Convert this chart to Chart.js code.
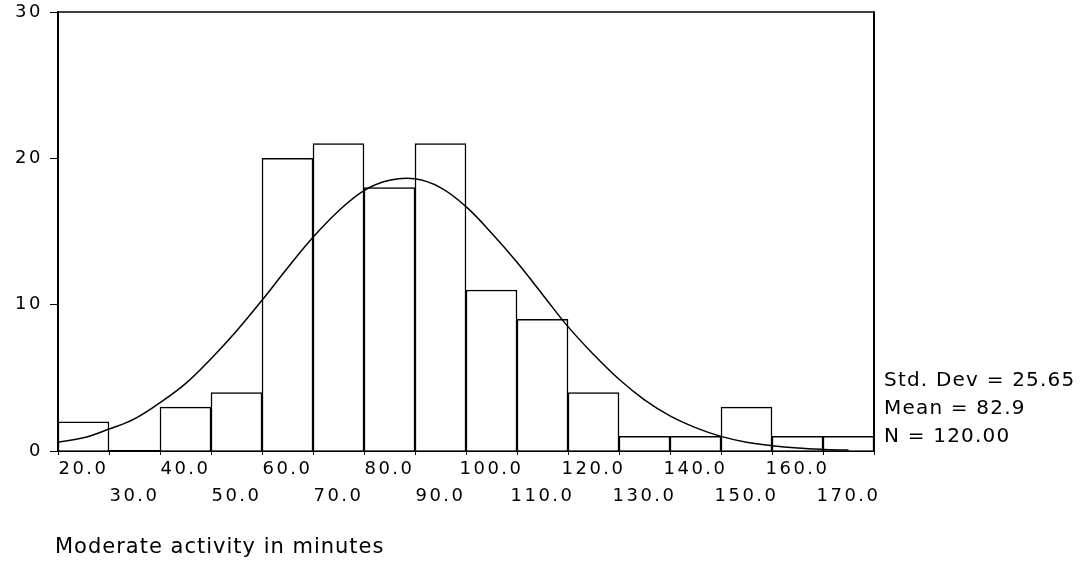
<!DOCTYPE html>
<html>
<head>
<meta charset="utf-8">
<script src="https://cdn.jsdelivr.net/npm/chart.js@4.4.0/dist/chart.umd.min.js"></script>
<style>
    html, body { margin: 0; padding: 0; background: #fff; }
    #wrap { width: 1084px; height: 562px; position: relative; }
</style>
</head>
<body>
<div id="wrap"><canvas id="myChart"></canvas></div>
<script>
// histogram bins (centre of each 10-minute bin) and counts
const binCenters = [20, 30, 40, 50, 60, 70, 80, 90, 100, 110, 120, 130, 140, 150, 160, 170];
const counts = [2, 0, 3, 4, 20, 21, 18, 21, 11, 9, 4, 1, 1, 3, 1, 1];

// normal curve
const curveX = [15, 20, 25, 30, 35, 40, 45, 50, 55, 60, 65, 70, 75, 80, 85, 90,
    95, 100, 105, 110, 115, 120, 125, 130, 135, 140, 145, 150, 155, 160, 165, 170];
const curveY = [0.6, 0.9, 1.5, 2.2, 3.3, 4.6, 6.3, 8.2, 10.3, 12.5, 14.6, 16.4, 17.8, 18.5, 18.6, 18.0,
    16.7, 14.9, 12.9, 10.7, 8.5, 6.6, 4.9, 3.5, 2.4, 1.6, 1.0, 0.6, 0.36, 0.2, 0.11, 0.06];

const xTickValues = [20, 30, 40, 50, 60, 70, 80, 90, 100, 110, 120, 130, 140, 150, 160, 170];
const xTickLabels = ["20.0", "30.0", "40.0", "50.0", "60.0", "70.0", "80.0", "90.0",
    "100.0", "110.0", "120.0", "130.0", "140.0", "150.0", "160.0", "170.0"];
const yTickValues = [0, 10, 20, 30];

const statLines = ["Std. Dev = 25.65", "Mean = 82.9", "N = 120.00"];
const xTitle = "Moderate activity in minutes";

const framePlugin = {
    id: "frame",
    beforeDraw(chart) {
        chart.ctx.letterSpacing = "2.5px";
    },
    afterDraw(chart) {
        const ctx = chart.ctx;
        const a = chart.chartArea;
        ctx.save();
        ctx.strokeStyle = "#000";
        ctx.lineWidth = 1.5;
        ctx.beginPath();
        ctx.moveTo(a.left, a.top);
        ctx.lineTo(a.right, a.top);
        ctx.stroke();
        ctx.lineWidth = 2;
        ctx.beginPath();
        ctx.moveTo(a.right, a.top - 0.75);
        ctx.lineTo(a.right, a.bottom);
        ctx.stroke();

        ctx.fillStyle = "#000";
        ctx.textBaseline = "middle";
        ctx.textAlign = "left";
        ctx.font = "20px 'DejaVu Sans'";
        ctx.letterSpacing = "1.2px";
        statLines.forEach((t, i) => {
            ctx.fillText(t, a.right + 10, a.bottom - 70 + i * 28);
        });

        ctx.font = "21px 'DejaVu Sans'";
        ctx.letterSpacing = "1px";
        ctx.fillText(xTitle, a.left - 3, 548);
        ctx.restore();
    },
};

const ctx = document.querySelector("#myChart");

const myChart = new Chart(ctx, {
    type: "bar",
    data: {
        datasets: [
            {
                type: "line",
                data: curveX.map((x, i) => ({ x: x, y: curveY[i] })),
                borderColor: "#000",
                borderWidth: 1.5,
                pointRadius: 0,
                tension: 0.4,
                fill: false,
                order: 0,
            },
            {
                type: "bar",
                data: binCenters.map((x, i) => ({ x: x, y: counts[i] })),
                backgroundColor: "#fff",
                borderColor: "#000",
                borderWidth: { top: 1.5, left: 1.5, right: 1.5, bottom: 0 },
                borderSkipped: false,
                barPercentage: 1,
                categoryPercentage: 1,
                order: 1,
            },
        ],
    },
    options: {
        responsive: true,
        maintainAspectRatio: false,
        animation: false,
        layout: {
            padding: { left: 0, right: 210, top: 12, bottom: 0 },
        },
        plugins: {
            legend: { display: false },
            tooltip: { enabled: false },
        },
        scales: {
            x: {
                type: "linear",
                min: 15,
                max: 175,
                offset: false,
                afterBuildTicks: (s) => {
                    s.ticks = xTickValues.map((v) => ({ value: v }));
                },
                afterFit: (s) => {
                    s.height = 111;
                    s.paddingLeft = 0;
                    s.paddingRight = 0;
                },
                grid: {
                    drawOnChartArea: false,
                    drawTicks: true,
                    tickLength: 4,
                    color: "#000",
                },
                border: { color: "#000", width: 2 },
                ticks: {
                    autoSkip: false,
                    maxRotation: 0,
                    color: "#000",
                    padding: 1,
                    font: { family: "DejaVu Sans", size: 18, lineHeight: 1.48 },
                    callback: (v, i) => (i % 2 === 0 ? xTickLabels[i] : ["", xTickLabels[i]]),
                },
            },
            y: {
                min: 0,
                max: 30,
                afterBuildTicks: (s) => {
                    s.ticks = yTickValues.map((v) => ({ value: v }));
                },
                afterFit: (s) => {
                    s.width = 58;
                    s.paddingTop = 0;
                    s.paddingBottom = 0;
                },
                grid: {
                    drawOnChartArea: false,
                    drawTicks: true,
                    tickLength: 8,
                    color: "#000",
                },
                border: { color: "#000", width: 2 },
                ticks: {
                    color: "#000",
                    padding: 7,
                    font: { family: "DejaVu Sans", size: 18, lineHeight: 1.2 },
                },
            },
        },
    },
    plugins: [framePlugin],
});
</script>
</body>
</html>
